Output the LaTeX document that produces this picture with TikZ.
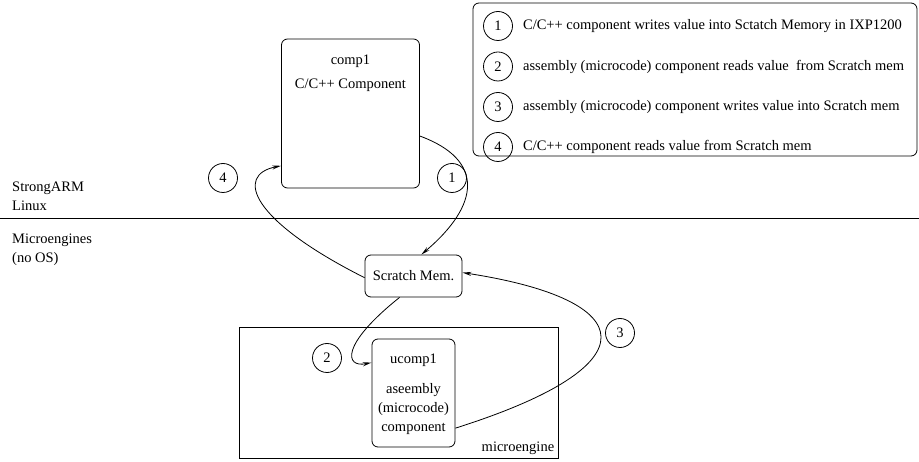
\documentclass[tikz,border=0pt]{standalone}
\usepackage{fontspec}
\setmainfont{Liberation Serif}
\usepackage{tikz}
\usetikzlibrary{arrows.meta,positioning}

\tikzset{
  box/.style={draw, rounded corners=6pt, line width=0.8pt, inner sep=0pt},
  num/.style={draw, circle, line width=0.8pt, minimum size=29pt, inner sep=0pt},
  flow/.style={line width=0.8pt, -{Stealth[open, length=9pt, width=4pt]}},
  legtext/.style={anchor=west, inner sep=0pt}
}

\begin{document}
\begin{tikzpicture}[x=1pt, y=-1pt, font=\fontsize{14.5}{19}\selectfont]
\useasboundingbox (0,0) rectangle (919,462);
%% Legend
\node[box, minimum width=444pt, minimum height=153pt] (legend) at (695,79.5) {};
\node[num] (l1) at (498,26) {1};
\node[num] (l2) at (498,66.5) {2};
\node[num] (l3) at (498,107) {3};
\node[num] (l4) at (498,147) {4};
\node[legtext, right=10pt of l1] (t1) {C/C++ component writes value into Sctatch Memory in IXP1200};
\node[legtext, right=10pt of l2] (t2) {assembly (microcode) component reads value\ \ from Scratch mem};
\node[legtext, right=10pt of l3] (t3) {assembly (microcode) component writes value into Scratch mem};
\node[legtext, right=10pt of l4] (t4) {C/C++ component reads value from Scratch mem};
%% Layers
\node[anchor=west, align=left, inner sep=0pt] (arm) at (12,196.5) {StrongARM\\Linux};
\node[anchor=west, align=left, inner sep=0pt] (ue) at (12,249.5) {Microengines\\(no OS)};
\coordinate (sepL) at (0,218);
\coordinate (sepR) at (919,218);
\draw[line width=0.8pt] (sepL) -- (sepR);
%% Components
\node[box, minimum width=138pt, minimum height=149pt] (comp1) at (350.5,113.5) {};
\node[below=16pt of comp1.north, inner sep=0pt] (comp1name) {comp1};
\node[below=11pt of comp1name, inner sep=0pt] (comp1text) {C/C++ Component};
\node[box, minimum width=97pt, minimum height=42pt] (scratch) at (413.5,276) {Scratch Mem.};
\node[draw, line width=0.8pt, minimum width=319pt, minimum height=131pt, inner sep=0pt] (engine) at (398.5,392.5) {};
\node[anchor=south east, inner sep=4pt] (enginename) at (engine.south east) {microengine};
\node[box, minimum width=83pt, minimum height=108pt] (ucomp1) at (413.5,393) {};
\node[below=15pt of ucomp1.north, inner sep=0pt] (ucomp1name) {ucomp1};
\node[below=17pt of ucomp1name, align=center, inner sep=0pt] (ucomp1text) {aseembly\\(microcode)\\component};
%% Steps
\node[num] (n1) at (452,178) {1};
\node[num] (n2) at (327,358) {2};
\node[num] (n3) at (620,333) {3};
\node[num] (n4) at (223,178) {4};
\draw[flow] (comp1.-18) .. controls (485,160) and (480,205) .. (scratch.70);
\draw[flow] (scratch.-123) .. controls (340,345) and (345,368) .. (ucomp1.144);
\draw[flow] (ucomp1.-40) .. controls (655,365) and (640,300) .. (scratch.4);
\draw[flow] (scratch.182) .. controls (250,220) and (235,175) .. (comp1.217);
\end{tikzpicture}
\end{document}
